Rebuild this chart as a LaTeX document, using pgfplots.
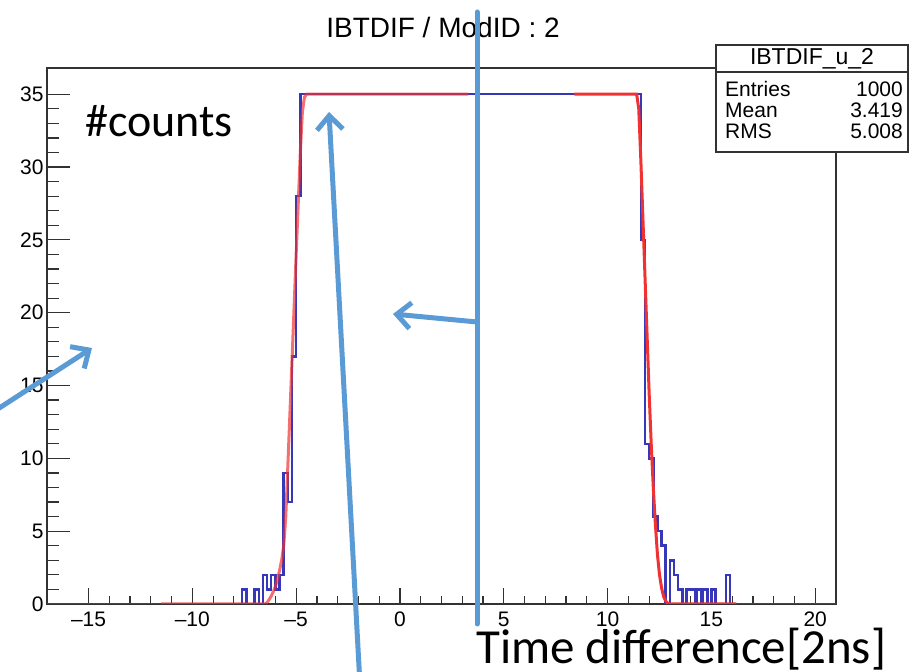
\documentclass[border=0pt]{standalone}
\usepackage{fontspec}
\setmainfont{Liberation Sans}
\newfontfamily\calibri{Carlito}
\usepackage{pgfplots}
\pgfplotsset{compat=1.18}
\usetikzlibrary{arrows.meta}
\definecolor{histblue}{RGB}{55,55,185}
\definecolor{fitred}{RGB}{240,50,50}
\definecolor{annblue}{RGB}{91,155,213}
\definecolor{framegray}{RGB}{50,50,50}

\begin{document}
\begin{tikzpicture}
\path[use as bounding box] (0,0) rectangle (913pt,672pt);
\begin{axis}[
    at={(47pt,68pt)}, anchor=south west,
    scale only axis, width=789pt, height=536pt,
    xmin=-17, xmax=21, ymin=0, ymax=36.8,
    axis line style={framegray, line width=1.3pt},
    xtick={-15,-10,...,20},
    xticklabels={--15,--10,--5,0,5,10,15,20},
    ytick={0,5,...,35},
    minor x tick num=4, minor y tick num=4,
    tick align=inside,
    xtick pos=left, ytick pos=left,
    tick style={framegray, line width=1.2pt},
    xtick style={/pgfplots/major tick length=16pt, /pgfplots/minor tick length=8pt},
    ytick style={/pgfplots/major tick length=23pt, /pgfplots/minor tick length=11.5pt},
    tick label style={font=\fontsize{21}{21}\selectfont},
    xticklabel style={inner sep=1pt, yshift=-7pt},
    /pgf/number format/assume math mode=true,
]

% histogram IBTDIF_u_2 (bin left edge, count)
\addplot[histblue, line width=2.5pt, const plot, mark=none] coordinates {
    (-17,0) (-7.6,1) (-7.4,0) (-7.0,1) (-6.8,0) (-6.6,2) (-6.4,1) (-6.2,2)
    (-6.0,1) (-5.8,2) (-5.6,9) (-5.4,7) (-5.2,17) (-5.0,28) (-4.8,35)
    (11.6,25) (11.8,11) (12.0,10) (12.2,6) (12.4,5) (12.6,4) (12.8,0)
    (13.0,3) (13.2,2) (13.4,1) (13.6,0) (13.8,1) (14.2,0) (14.3,1) (14.5,0)
    (14.6,1) (14.8,0) (15.0,1) (15.2,0) (15.7,2) (15.9,0) (21,0)
};

% fit, rising part (drawn half transparent over the histogram)
\addplot[fitred, opacity=0.7, line width=3pt, mark=none] coordinates {
    (-11.5,0) (-6.5,0) (-6.4,0.1) (-6.3,0.3) (-6.2,0.55) (-6.1,0.85)
    (-6.0,1.2) (-5.9,1.7) (-5.8,2.3) (-5.7,3.0) (-5.6,4.0) (-5.5,6.0)
    (-5.4,9.5) (-5.2,16.7) (-5.0,24) (-4.8,31) (-4.7,33.8) (-4.6,34.8)
    (-4.5,35) (3.3,35)
};

% fit, falling part
\addplot[fitred, line width=3pt, mark=none] coordinates {
    (8.4,35) (11.4,35) (11.5,34) (11.6,30.5) (11.7,26.5) (11.8,22.5)
    (11.9,18.5) (12.0,14.5) (12.1,11) (12.2,8) (12.3,5.5) (12.4,3.4)
    (12.5,2) (12.6,1.1) (12.7,0.5) (12.8,0.2) (12.9,0.05) (13.0,0) (16.2,0)
};
\end{axis}

\begin{scope}[x=1pt, y=-1pt, yshift=672pt]
% title
\node[font=\fontsize{28}{28}\selectfont] at (443,27) {IBTDIF / ModID : 2};

% stats box
\draw[framegray, line width=1.2pt, fill=white] (716,45) rectangle (908,152);
\draw[framegray, line width=1.2pt] (716,72) -- (908,72);
\begin{scope}[every node/.style={font=\fontsize{21}{21}\selectfont, inner sep=0}]
\node[font=\fontsize{23}{23}\selectfont] at (812,58.5) {IBTDIF\_u\_2};
\node[anchor=west] at (725,89) {Entries};
\node[anchor=east] at (903,89) {1000};
\node[anchor=west] at (725,110) {Mean};
\node[anchor=east] at (903,110) {3.419};
\node[anchor=west] at (725,131) {RMS};
\node[anchor=east] at (903,131) {5.008};
\end{scope}

% annotations
\node[anchor=base west, inner sep=0, font=\calibri\fontsize{49}{49}\selectfont] at (476,663) {Time difference[2ns]};
\node[anchor=base west, inner sep=0, font=\calibri\fontsize{46}{46}\selectfont] at (85,137) {\#counts};

\begin{scope}[annblue, line width=5pt, line cap=round]
\draw (477,12) -- (477,624);
\draw[-{Straight Barb[length=14pt,width=26pt]}] (477,322) -- (393,314);
\draw[-{Straight Barb[length=14pt,width=26pt]}] (360,685) -- (329,112);
\draw[-{Straight Barb[length=14pt,width=26pt]}] (-10,414) -- (92,348);
\end{scope}
\end{scope}
\end{tikzpicture}
\end{document}
